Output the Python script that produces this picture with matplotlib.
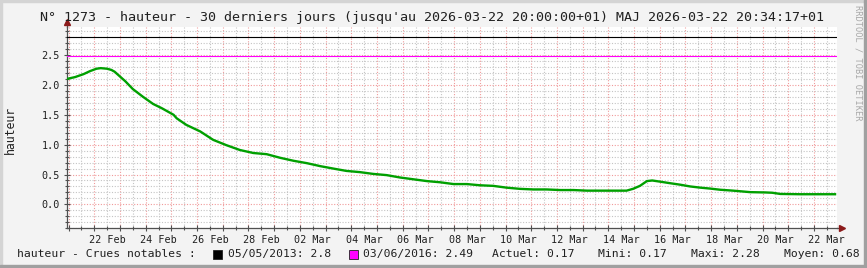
"""Hauteur d'eau sur 30 jours, rendu façon RRDtool."""
import matplotlib
matplotlib.use("Agg")
import matplotlib.pyplot as plt
import matplotlib.dates as mdates
import pandas as pd
from matplotlib.patches import Rectangle
from matplotlib.ticker import FuncFormatter, MultipleLocator

W, H = 867, 268

# série (hauteur en m)
temps = [
    "2026-02-20 22:30", "2026-02-21 06:00", "2026-02-21 14:00", "2026-02-21 20:00",
    "2026-02-22 02:00", "2026-02-22 06:00", "2026-02-22 12:00", "2026-02-22 16:00",
    "2026-02-22 19:00", "2026-02-23 00:00", "2026-02-23 05:00", "2026-02-23 12:00",
    "2026-02-23 21:30", "2026-02-24 07:00", "2026-02-24 15:00", "2026-02-25 02:00",
    "2026-02-25 05:00", "2026-02-25 14:00", "2026-02-26 03:00", "2026-02-26 15:00",
    "2026-02-27 03:30", "2026-02-27 16:00", "2026-02-28 04:30", "2026-02-28 17:00",
    "2026-03-01 05:30", "2026-03-01 18:00", "2026-03-02 06:30", "2026-03-02 19:00",
    "2026-03-03 07:00", "2026-03-03 19:30", "2026-03-04 08:00", "2026-03-04 20:30",
    "2026-03-05 09:00", "2026-03-05 21:30", "2026-03-06 10:00", "2026-03-06 22:30",
    "2026-03-07 11:00", "2026-03-07 23:30", "2026-03-08 12:00", "2026-03-09 00:00",
    "2026-03-09 12:30", "2026-03-10 01:00", "2026-03-10 13:30", "2026-03-11 02:00",
    "2026-03-11 14:30", "2026-03-12 03:00", "2026-03-12 15:30", "2026-03-13 04:00",
    "2026-03-13 16:30", "2026-03-14 05:00", "2026-03-14 17:00", "2026-03-14 23:00",
    "2026-03-15 05:30", "2026-03-15 12:00", "2026-03-15 17:00", "2026-03-16 00:30",
    "2026-03-16 09:30", "2026-03-16 19:00", "2026-03-17 04:30", "2026-03-17 14:00",
    "2026-03-17 23:00", "2026-03-18 08:30", "2026-03-18 20:30", "2026-03-19 12:30",
    "2026-03-20 02:30", "2026-03-20 09:00", "2026-03-20 16:30", "2026-03-21 11:00",
    "2026-03-22 06:00", "2026-03-22 19:40",
]
hauteur = [
    2.10, 2.13, 2.18, 2.23,
    2.27, 2.28, 2.27, 2.25,
    2.22, 2.14, 2.06, 1.93,
    1.80, 1.68, 1.61, 1.50,
    1.44, 1.33, 1.22, 1.08,
    0.99, 0.91, 0.86, 0.84,
    0.78, 0.73, 0.69, 0.64,
    0.60, 0.56, 0.54, 0.51,
    0.49, 0.45, 0.42, 0.39,
    0.37, 0.34, 0.34, 0.32,
    0.31, 0.28, 0.26, 0.25,
    0.25, 0.24, 0.24, 0.23,
    0.23, 0.23, 0.23, 0.26,
    0.31, 0.39, 0.40, 0.38,
    0.355, 0.33, 0.30, 0.28,
    0.265, 0.245, 0.23, 0.205,
    0.20, 0.195, 0.175, 0.17,
    0.17, 0.17,
]

crues_dates = ["05/05/2013", "03/06/2016"]
crues_valeurs = [2.8, 2.49]
crues_couleurs = ["#000000", "#ff00ff"]

stats_noms = ["Actuel", "Mini", "Maxi", "Moyen"]
stats_valeurs = [0.17, 0.17, 2.28, 0.68]

titre = ("N° 1273 - hauteur - 30 derniers jours (jusqu'au 2026-03-22 20:00:00+01)"
         " MAJ 2026-03-22 20:34:17+01")

MONO = "DejaVu Sans Mono"
GRID_MAJ = "#f09a9a"
GRID_MIN = "#c4c4c4"
AXE = "#505050"
FLECHE = "#8b1a1a"


def px(x, y):
    """coordonnées pixel (origine en haut à gauche) -> fraction de figure"""
    return x / W, 1 - y / H


fig = plt.figure(figsize=(W / 100, H / 100), dpi=100)
fig.patch.set_facecolor("#f3f3f3")

# bordure 3D façon rrdtool
fig.patches.append(Rectangle((0, 0), 2 / W, 1, transform=fig.transFigure,
                             color="#d4d4d4", zorder=0))
fig.patches.append(Rectangle((0, 1 - 2 / H), 1, 2 / H, transform=fig.transFigure,
                             color="#d4d4d4", zorder=0))
fig.patches.append(Rectangle((1 - 3 / W, 0), 3 / W, 1, transform=fig.transFigure,
                             color="#a0a0a0", zorder=0))
fig.patches.append(Rectangle((0, 0), 1, 3 / H, transform=fig.transFigure,
                             color="#a0a0a0", zorder=0))

left, right, top, bottom = 66.7, 837.0, 27.5, 228.3
ax = fig.add_axes([left / W, 1 - bottom / H, (right - left) / W, (bottom - top) / H])
ax.set_facecolor("white")

t = pd.to_datetime(temps)
ax.plot(t, hauteur, color="#00a000", lw=1.7, zorder=4, solid_joinstyle="miter")
for val, coul in zip(crues_valeurs, crues_couleurs):
    ax.axhline(val, color=coul, lw=0.8, zorder=3)

ax.set_xlim(pd.Timestamp("2026-02-20 22:15"), pd.Timestamp("2026-03-22 21:30"))
ax.set_ylim(-0.4, 2.96)

# grille x : jours (rouge) et midis (gris), étiquettes au midi des jours pairs
ax.xaxis.set_major_locator(mdates.DayLocator())
ax.xaxis.set_minor_locator(mdates.HourLocator(byhour=12))
ax.xaxis.set_major_formatter(FuncFormatter(lambda v, p: ""))


def _etiquette(v, p):
    d = mdates.num2date(v)
    return d.strftime("%d %b") if d.day % 2 == 0 else ""


ax.xaxis.set_minor_formatter(FuncFormatter(_etiquette))
ax.yaxis.set_major_locator(MultipleLocator(0.5))
ax.yaxis.set_minor_locator(MultipleLocator(0.1))
ax.yaxis.set_major_formatter(FuncFormatter(lambda v, p: f"{v:.1f}"))

ax.grid(which="major", color=GRID_MAJ, ls=(0, (1, 1.5)), lw=0.8, zorder=1)
ax.grid(which="minor", color=GRID_MIN, ls=(0, (1, 1.5)), lw=0.8, zorder=1)
ax.set_axisbelow(True)

ax.tick_params(which="both", direction="inout", color=AXE, width=0.8,
               labelsize=7.3, labelcolor="#202020", labelfontfamily=MONO)
ax.tick_params(which="major", length=4)
ax.tick_params(which="minor", length=3)
ax.tick_params(axis="x", which="minor", pad=3)
ax.tick_params(axis="y", pad=3)

for s in ("top", "right"):
    ax.spines[s].set_visible(False)
for s in ("left", "bottom"):
    ax.spines[s].set_color(AXE)
    ax.spines[s].set_linewidth(0.9)

# flèches des axes
ax.plot([0, 0], [1, 1.025], color=AXE, lw=0.9, transform=ax.transAxes, clip_on=False)
ax.plot(0, 1.025, marker="^", ms=4.5, color=FLECHE, transform=ax.transAxes,
        clip_on=False, zorder=6)
ax.plot([1, 1.007], [0, 0], color=AXE, lw=0.9, transform=ax.transAxes, clip_on=False)
ax.plot(1.007, 0, marker=">", ms=4.5, color=FLECHE, transform=ax.transAxes,
        clip_on=False, zorder=6)

# textes
fig.text(*px(40, 18), titre, family=MONO, fontsize=9.6, color="#202020", va="center")
fig.text(*px(10, 130), "hauteur", family=MONO, fontsize=8.3, rotation=90,
         va="center", ha="center", color="#202020")
fig.text(*px(858, 5), "RRDTOOL / TOBI OETIKER", family=MONO, fontsize=6.2,
         rotation=270, va="top", ha="center", color="#a8a8a8")

ly = 254
fig.text(*px(17, ly), "hauteur - Crues notables :", family=MONO, fontsize=8.2,
         va="center", color="#202020")
carres_x = [213.3, 348.5]
textes_x = [228.3, 362.7]
for cx, tx, d, v, c in zip(carres_x, textes_x, crues_dates, crues_valeurs, crues_couleurs):
    fig.patches.append(Rectangle(px(cx, ly + 4.5), 9 / W, 9 / H, transform=fig.transFigure,
                                 facecolor=c, edgecolor="#202020", lw=0.6, zorder=3))
    fig.text(*px(tx, ly), f"{d}: {v:g}", family=MONO, fontsize=8.2,
             va="center", color="#202020")

stats_x = [491.7, 597.7, 691.0, 784.0]
for sx, nom, v in zip(stats_x, stats_noms, stats_valeurs):
    fig.text(*px(sx, ly), f"{nom}: {v:.2f}", family=MONO, fontsize=8.2,
             va="center", color="#202020")

fig.savefig("out.png", dpi=100, facecolor=fig.get_facecolor())
